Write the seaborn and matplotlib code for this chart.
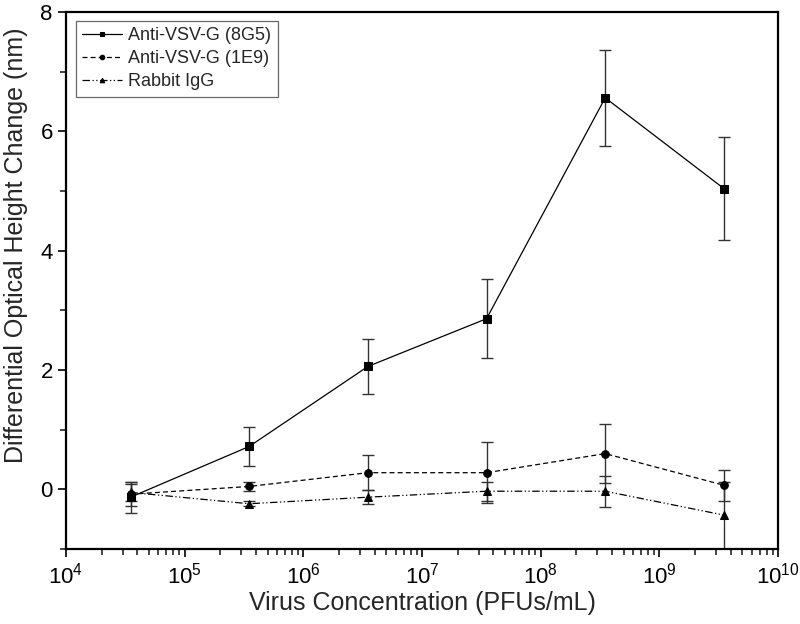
import numpy as np
import pandas as pd
import seaborn as sns
import matplotlib.pyplot as plt

# concentrações de vírus (PFUs/mL)
concentracao = [3.5e4, 3.5e5, 3.5e6, 3.5e7, 3.5e8, 3.5e9]

# variação diferencial da altura óptica (nm) e desvios
anti_8g5 = [-0.13, 0.72, 2.06, 2.86, 6.56, 5.04]
erro_8g5 = [0.26, 0.33, 0.46, 0.66, 0.80, 0.86]

anti_1e9 = [-0.08, 0.05, 0.28, 0.28, 0.60, 0.07]
erro_1e9 = [0.20, 0.08, 0.29, 0.51, 0.49, 0.26]

rabbit_igg = [-0.05, -0.24, -0.13, -0.03, -0.03, -0.43]
erro_igg = [0.14, 0.04, 0.12, 0.16, 0.26, 0.56]

series = ['Anti-VSV-G (8G5)', 'Anti-VSV-G (1E9)', 'Rabbit IgG']

sns.set_style('ticks')
plt.rcParams['font.family'] = ['Liberation Sans', 'DejaVu Sans']
plt.rcParams['xtick.direction'] = 'out'
plt.rcParams['ytick.direction'] = 'out'

base = pd.DataFrame({
    'conc': concentracao * 3,
    'valor': anti_8g5 + anti_1e9 + rabbit_igg,
    'erro': erro_8g5 + erro_1e9 + erro_igg,
    'serie': [s for s in series for _ in concentracao],
})

fig = plt.figure(figsize=(8, 6.24), dpi=100)
ax = fig.add_axes([0.0825, 0.12, 0.89, 0.861])

# barras de erro primeiro (ficam por baixo)
for s in series:
    d = base[base['serie'] == s]
    ax.errorbar(d['conc'], d['valor'], yerr=d['erro'], fmt='none',
                ecolor='#333333', elinewidth=1.0, capsize=4, capthick=1.0,
                zorder=2)

sns.lineplot(data=base, x='conc', y='valor', hue='serie', style='serie',
             hue_order=series, style_order=series,
             palette=['black', 'black', 'black'],
             dashes=['', (4, 2.5), (6, 2, 1, 2, 1, 2)],
             markers=['s', 'o', '^'], markersize=5.5, linewidth=0.9,
             markeredgecolor='black', ax=ax, zorder=3)

ax.set_xscale('log')
ax.set_xlim(1e4, 1e10)
ax.set_ylim(-1, 8)
ax.set_yticks([0, 2, 4, 6, 8])
ax.set_yticks([-1, 1, 3, 5, 7], minor=True)
ax.tick_params(axis='both', which='major', labelsize=16, length=6, width=1.2,
               colors='black')
ax.tick_params(axis='both', which='minor', length=4, width=1.2)
ax.tick_params(top=False, right=False, which='both')
for sp in ax.spines.values():
    sp.set_linewidth(1.6)
    sp.set_color('black')

ax.set_xlabel('Virus Concentration (PFUs/mL)', fontsize=18, labelpad=2)
ax.set_ylabel('Differential Optical Height Change (nm)', fontsize=18)
ax.yaxis.set_label_coords(-0.054, 0.566)

leg = ax.legend(loc='upper left', fontsize=13, frameon=True, fancybox=False,
                edgecolor='#444444', handlelength=2.2, handletextpad=0.35,
                borderpad=0.35, labelspacing=0.33, markerscale=0.6,
                borderaxespad=0, bbox_to_anchor=(0.014, 0.983))
leg.get_frame().set_linewidth(0.9)

fig.savefig('out.png', dpi=100)
